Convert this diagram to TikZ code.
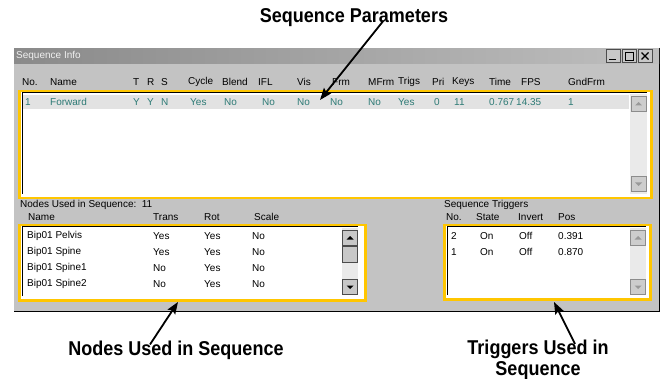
\documentclass[tikz,border=0pt]{standalone}
\usepackage{fontspec}
\setmainfont{Liberation Sans}
\newfontfamily\calloutfont[FakeStretch=0.9]{Liberation Sans}
\usetikzlibrary{arrows.meta,positioning}
\definecolor{wingray}{RGB}{195,195,195}
\definecolor{titlegray}{RGB}{138,138,138}
\definecolor{selyellow}{RGB}{255,198,0}
\definecolor{rowteal}{RGB}{45,122,117}
\definecolor{rowhi}{RGB}{226,226,226}
\definecolor{track}{RGB}{234,234,234}
\definecolor{btngray}{RGB}{200,200,200}

\begin{document}
\begin{tikzpicture}[x=1pt,y=-1pt,>={Stealth[length=12pt,width=9pt,inset=2pt]},font=\fontsize{10}{11}\selectfont]
  \tikzstyle{ui}=[anchor=west,inner sep=0pt,text=black]
  \tikzstyle{sel}=[ui,text=rowteal]
  \tikzstyle{callout}=[font=\calloutfont\fontsize{20}{21}\selectfont\bfseries,align=center,inner sep=0pt]
  \tikzstyle{frame}=[draw=selyellow,line width=2.5pt,fill=white,anchor=north west,inner sep=0pt]
  \tikzstyle{sbtn}=[draw=black!70,fill=btngray,minimum width=15,minimum height=15,inner sep=0pt]
  \tikzstyle{pointer}=[->,line width=1.8pt]

  \useasboundingbox (0,0) rectangle (663,379);

  % window and title bar
  \node[fill=wingray,minimum width=645,minimum height=263,anchor=north west,inner sep=0pt] (win) at (14,48) {};
  \draw[black,line width=1.5pt] (win.north east) -- (win.south east) -- (win.south west);
  \node[left color=titlegray,right color=titlegray!55,minimum width=645,minimum height=15,anchor=north west,inner sep=0pt] (title) at (14,48) {};
  \node[ui,text=white!94!black] (titletext) at (16,56) {Sequence Info};
  \node[sbtn,minimum width=14,minimum height=13] (minbtn) at (613,56) {};
  \node[sbtn,minimum width=14,minimum height=13] (maxbtn) at (629,56) {};
  \node[sbtn,minimum width=14,minimum height=13] (closebtn) at (645,56) {};
  \draw[line width=1.3pt] ([shift={(-4,3.5)}]minbtn.center) -- ++(7,0);
  \draw[line width=0.9pt] ([shift={(-4,-4)}]maxbtn.center) rectangle ++(8,8);
  \draw[line width=1.1pt] ([shift={(-3.5,-3.5)}]closebtn.center) -- ++(7,7) ([shift={(3.5,-3.5)}]closebtn.center) -- ++(-7,7);

  % sequence parameters
  \foreach \x/\t [count=\i] in {22/No.,50/Name,133/T,147/R,161/S,188/Cycle,222/Blend,258/IFL,297/Vis,332/Frm,368/MFrm,398/Trigs,432/Pri,452/Keys,489/Time,521/FPS,568/GndFrm}
    \node[ui] (colhd\i) at (\x,82) {\t};
  \node[frame,minimum width=632,minimum height=107] (seqpanel) at (18,90) {};
  \fill[rowhi] (23,95) rectangle (629,109);
  \draw[black,line width=1pt] (22,194) -- (22,93) -- (647,93);
  \foreach \x/\t [count=\i] in {25/1,50/Forward,133/Y,147/Y,161/N,190/Yes,224/No,262/No,297/No,330/No,368/No,398/Yes,434/0,454/11,489/0.767,516/14.35,568/1}
    \node[sel] (cell\i) at (\x,102) {\t};
  \fill[track] (630,94) rectangle (647,194);
  \node[sbtn,draw=black!45,fill=btngray!90] (sequp) at (638.5,104) {};
  \node[sbtn,draw=black!45,fill=btngray!90] (seqdown) at (638.5,184) {};

  % nodes used in sequence
  \node[ui] (nodecount) at (20,205) {Nodes Used in Sequence:\ \ 11};
  \foreach \x/\t [count=\i] in {28/Name,153/Trans,204/Rot,254/Scale}
    \node[ui] (nodehd\i) at (\x,217) {\t};
  \node[frame,minimum width=346,minimum height=75] (nodepanel) at (18,224) {};
  \draw[black,line width=1pt] (22,296) -- (22,227) -- (358,227);
  \foreach \n/\tr/\ro/\sc [count=\i] in {Bip01 Pelvis/Yes/Yes/No,Bip01 Spine/Yes/Yes/No,Bip01 Spine1/No/Yes/No,Bip01 Spine2/No/Yes/No} {
    \node[ui] (bone\i) at (27,220+16*\i) {\n};
    \node[ui] (trans\i) at (153,220+16*\i) {\tr};
    \node[ui] (rot\i) at (204,220+16*\i) {\ro};
    \node[ui] (scale\i) at (252,220+16*\i) {\sc};
  }
  \fill[track] (342,228) rectangle (358,295);
  \node[sbtn] (nodeup) at (350,238) {};
  \node[sbtn,minimum height=16] (nodethumb) at (350,254) {};
  \node[sbtn] (nodedown) at (350,287) {};

  % sequence triggers
  \node[ui] (trigtitle) at (444,205) {Sequence Triggers};
  \foreach \x/\t [count=\i] in {446/No.,476/State,518/Invert,558/Pos}
    \node[ui] (trighd\i) at (\x,217) {\t};
  \node[frame,minimum width=206,minimum height=74] (trigpanel) at (443,224) {};
  \draw[black,line width=1pt] (447,295) -- (447,227) -- (646,227);
  \foreach \no/\st/\inv/\pos [count=\i] in {2/On/Off/0.391,1/On/Off/0.870} {
    \node[ui] (trigno\i) at (451,220+16*\i) {\no};
    \node[ui] (trigst\i) at (480,220+16*\i) {\st};
    \node[ui] (triginv\i) at (519,220+16*\i) {\inv};
    \node[ui] (trigpos\i) at (558,220+16*\i) {\pos};
  }
  \fill[track] (630,228) rectangle (646,295);
  \node[sbtn,draw=black!45,fill=btngray!90] (trigup) at (638,238) {};
  \node[sbtn,draw=black!45,fill=btngray!90] (trigdown) at (638,287) {};

  % scroll arrows
  \foreach \b in {nodeup}
    \fill ([shift={(-3.5,1.5)}]\b.center) -- ++(7,0) -- ++(-3.5,-3.5) -- cycle;
  \foreach \b in {nodedown}
    \fill ([shift={(-3.5,-1.5)}]\b.center) -- ++(7,0) -- ++(-3.5,3.5) -- cycle;
  \foreach \b in {sequp,trigup}
    \fill[black!40] ([shift={(-3.5,1.5)}]\b.center) -- ++(7,0) -- ++(-3.5,-3.5) -- cycle;
  \foreach \b in {seqdown,trigdown}
    \fill[black!40] ([shift={(-3.5,-1.5)}]\b.center) -- ++(7,0) -- ++(-3.5,3.5) -- cycle;

  % callouts
  \node[callout] (paramlbl) at (354,18) {Sequence Parameters};
  \node[callout] (nodelbl) at (176,350) {Nodes Used in Sequence};
  \node[callout] (triglbl) at (538,360) {Triggers Used in\\Sequence};
  \coordinate (paramtip) at (320,100);
  \coordinate (nodetip) at (178,302);
  \coordinate (trigtip) at (554,302);
  \draw[pointer] ([xshift=29,yshift=6]paramlbl.south) -- (paramtip);
  \draw[pointer] ([xshift=-26,yshift=-4]nodelbl.north) -- (nodetip);
  \draw[pointer] ([xshift=37,yshift=-4]triglbl.north) -- (trigtip);
\end{tikzpicture}
\end{document}
